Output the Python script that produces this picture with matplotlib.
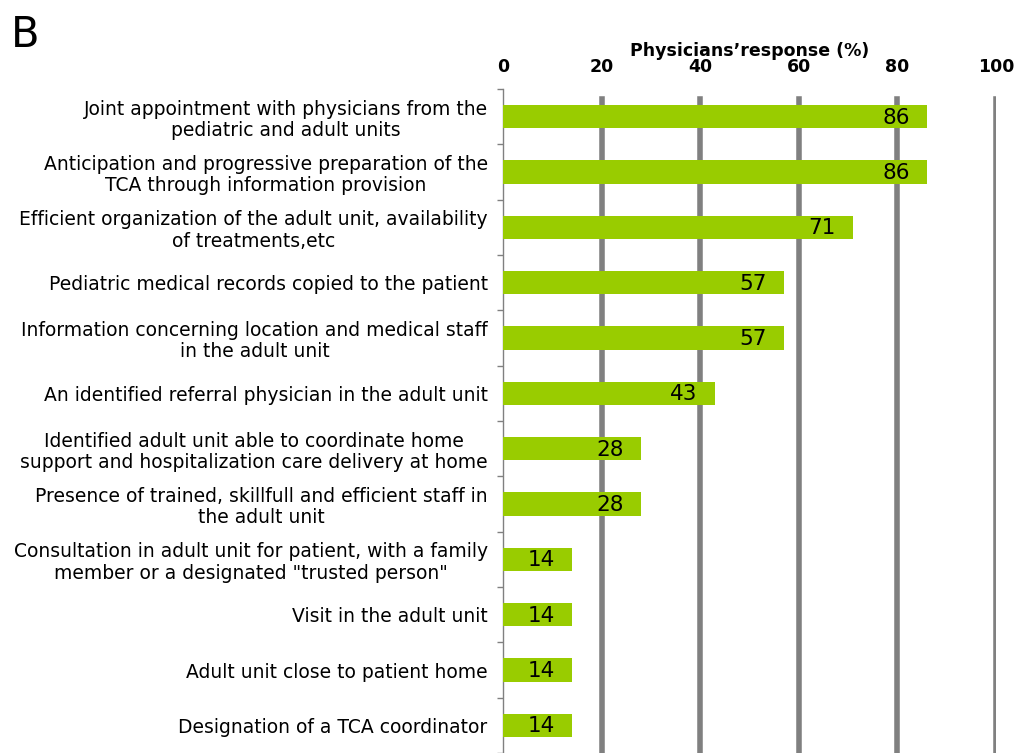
import numpy as np
import matplotlib.pyplot as plt

labels = [
    "Joint appointment with physicians from the\npediatric and adult units",
    "Anticipation and progressive preparation of the\nTCA through information provision",
    "Efficient organization of the adult unit, availability\nof treatments,etc",
    "Pediatric medical records copied to the patient",
    "Information concerning location and medical staff\nin the adult unit",
    "An identified referral physician in the adult unit",
    "Identified adult unit able to coordinate home\nsupport and hospitalization care delivery at home",
    "Presence of trained, skillfull and efficient staff in\nthe adult unit",
    "Consultation in adult unit for patient, with a family\nmember or a designated \"trusted person\"",
    "Visit in the adult unit",
    "Adult unit close to patient home",
    "Designation of a TCA coordinator",
]
values = [86, 86, 71, 57, 57, 43, 28, 28, 14, 14, 14, 14]

W, H = 1016, 753
fig = plt.figure(figsize=(W / 100, H / 100), dpi=100)
ax = fig.add_axes([503 / W, 0.0, (996 - 503) / W, 1 - 89 / H])

y = np.arange(len(values))
ax.barh(y, values, height=0.42, color="#99cc00", zorder=3)
for yi, v in zip(y, values):
    ax.text(v - 3.5, yi + 0.02, str(v), ha="right", va="center", fontsize=15.5, zorder=4)

ax.set_xlim(0, 100)
ax.set_ylim(len(values) - 0.5, -0.5)
ax.set_xticks([0, 20, 40, 60, 80, 100])
ax.xaxis.tick_top()
ax.xaxis.set_label_position("top")
ax.tick_params(axis="x", length=0, pad=9, labelsize=12.5)
for t in ax.get_xticklabels():
    t.set_fontweight("bold")
ax.set_xlabel("Physicians\u2019response (%)", fontsize=12.5, fontweight="bold", labelpad=2)

for x in [20, 40, 60, 80, 100]:
    ax.axvline(x, ymin=0, ymax=0.985, color="#808080", linewidth=4, zorder=1)

ax.set_yticks(y)
ax.set_yticklabels(labels, fontsize=13.5, linespacing=1.15, multialignment="center")
ax.set_yticks(np.arange(-0.5, len(values), 1), minor=True)
ax.tick_params(axis="y", which="major", length=0, pad=11)
ax.tick_params(axis="y", which="minor", length=4, color="#808080", width=1)

for s in ["top", "right", "bottom"]:
    ax.spines[s].set_visible(False)
ax.spines["left"].set_color("#808080")
ax.spines["left"].set_linewidth(1)

fig.text(11 / W, 1 - 47 / H, "B", fontsize=30, ha="left", va="baseline")

fig.savefig("out.png", dpi=100)
